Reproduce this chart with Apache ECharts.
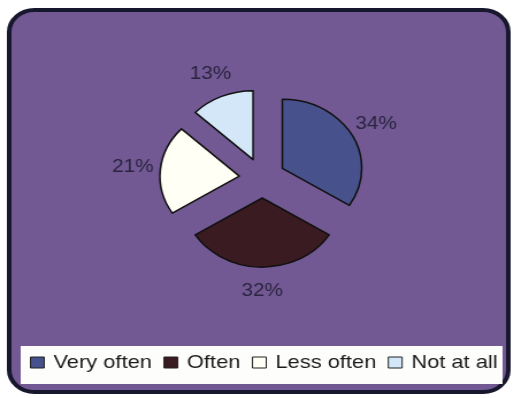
<!DOCTYPE html>
<html>
<head>
<meta charset="utf-8">
<script src="https://cdn.jsdelivr.net/npm/echarts@6/dist/echarts.min.js"></script>
<style>
  html, body { margin: 0; padding: 0; background: #ffffff; overflow: hidden; }
  /* the chart is drawn on a narrower canvas and widened, giving the wide, flattened look */
  #chart { width: 446px; height: 398px; transform: scaleX(1.15); transform-origin: 0 0; }
</style>
</head>
<body>
<div id="chart"></div>
<script>
// Share of answers per frequency
const categories = ['Very often', 'Often', 'Less often', 'Not at all'];
const shares = [34, 32, 21, 13];

const palette = ['#47518c', '#3b1b22', '#fffff5', '#d3e7f8'];

const chart = echarts.init(document.getElementById('chart'), null, { renderer: 'canvas' });

chart.setOption({
  animation: false,
  color: palette,
  graphic: [
    {
      type: 'rect',
      z: -10,
      shape: { x: 8, y: 10, width: 434, height: 382, r: 22 },
      style: { fill: '#725993', stroke: '#17172d', lineWidth: 4 }
    },
    {
      type: 'rect',
      z: -9,
      shape: { x: 18, y: 346, width: 419, height: 38 },
      style: { fill: '#fdfdfc' }
    }
  ],
  legend: {
    data: categories,
    left: 26,
    top: 353,
    icon: 'rect',
    itemWidth: 12,
    itemHeight: 11,
    itemGap: 10,
    padding: 0,
    selectedMode: false,
    itemStyle: { borderColor: '#222222', borderWidth: 1 },
    textStyle: {
      fontFamily: 'Liberation Sans, Arial, sans-serif',
      fontSize: 19,
      color: '#1c1c1c',
      padding: [0, 0, 0, 3]
    }
  },
  series: [
    {
      type: 'pie',
      center: [228, 178],
      radius: 69,
      startAngle: 90,
      clockwise: true,
      avoidLabelOverlap: false,
      selectedMode: 'multiple',
      selectedOffset: 20,
      itemStyle: { borderColor: '#111111', borderWidth: 1.5 },
      select: { itemStyle: { borderColor: '#111111', borderWidth: 1.5 } },
      emphasis: { disabled: true },
      label: {
        show: true,
        position: 'outside',
        formatter: '{c}%',
        fontFamily: 'Liberation Sans, Arial, sans-serif',
        fontSize: 18,
        color: '#2a2440',
        distanceToLabelLine: -18
      },
      labelLine: { show: false, length: 24, length2: 0 },
      data: categories.map((name, i) => ({ name: name, value: shares[i], selected: true }))
    }
  ]
});
</script>
</body>
</html>
